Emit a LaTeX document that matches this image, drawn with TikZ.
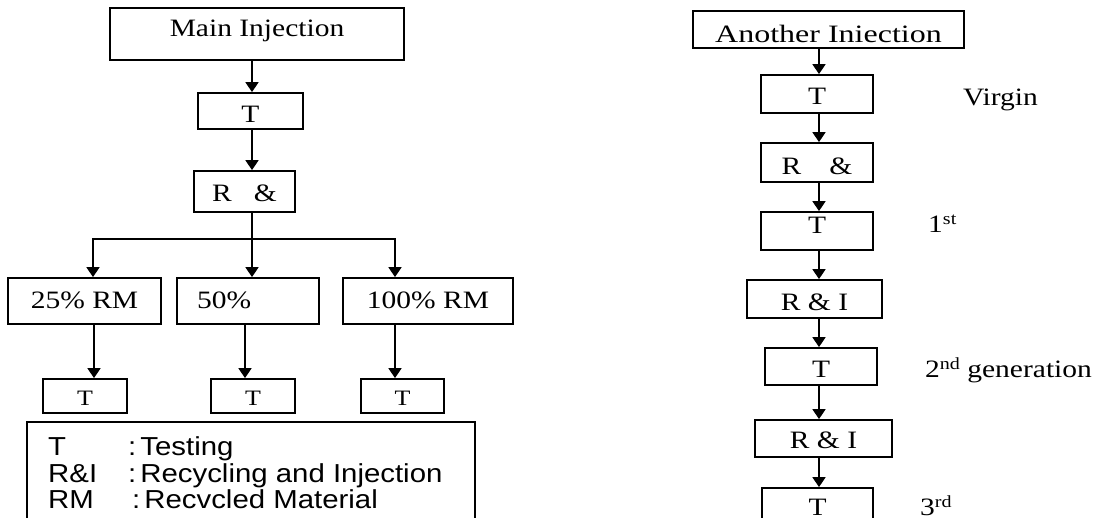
\documentclass[tikz,border=0pt]{standalone}
\usepackage{fontspec}
\usetikzlibrary{arrows.meta}
\newfontfamily\serifw[FakeStretch=1.18]{Liberation Serif}
\newfontfamily\serifwide[FakeStretch=1.28]{Liberation Serif}
\newfontfamily\sansw[FakeStretch=1.13]{Liberation Sans}
\newcommand\bigserif{\serifw\fontsize{25}{30}\selectfont}
\newcommand\wideserif{\serifwide\fontsize{25}{30}\selectfont}
\newcommand\smallserif{\serifw\fontsize{22}{26}\selectfont}
\newcommand\legsans{\sansw\fontsize{26}{30}\selectfont}
\newcommand\supr[1]{\raisebox{8pt}{\fontsize{17}{20}\selectfont #1}}
\tikzset{
  box/.style={draw, line width=1.8pt, inner sep=0pt, font=\bigserif, text height=20pt, text depth=0pt, anchor=center},
  arr/.style={line width=1.8pt, -{Triangle[width=13pt,length=10pt]}},
  lbl/.style={font=\bigserif, anchor=base west, inner sep=0pt},
  legline/.style={font=\legsans, anchor=base west, inner sep=0pt}
}
\begin{document}
\begin{tikzpicture}[x=1pt,y=-1pt]
\useasboundingbox (0,0) rectangle (1116,517);
% ---------- left flow ----------
\node[box, minimum width=294pt, minimum height=52pt, text height=5pt] (main) at (257,34) {Main Injection};
\node[box, minimum width=105pt, minimum height=36pt, text height=22pt] (t0) at (250.5,111) {T};
\node[box, minimum width=101pt, minimum height=41pt, text height=19pt] (r0) at (244.5,191.5) {R\hspace{22pt}\&};
\node[box, minimum width=153pt, minimum height=46pt, text height=14pt] (b1) at (84.5,301) {25\% RM};
\node[box, minimum width=142pt, minimum height=46pt, text height=14pt, inner xsep=20pt, text width=102pt, align=left] (b2) at (248,301) {50\%};
\node[box, minimum width=170pt, minimum height=46pt, text height=14pt] (b3) at (428,301) {100\% RM};
\node[box, font=\smallserif, minimum width=84pt, minimum height=34pt, text height=18pt] (tA) at (85,396) {T};
\node[box, font=\smallserif, minimum width=84pt, minimum height=34pt, text height=18pt] (tB) at (253,396) {T};
\node[box, font=\smallserif, minimum width=83pt, minimum height=34pt, text height=18pt] (tC) at (402.5,396) {T};
\node[box, minimum width=448pt, minimum height=108pt] (leg) at (251,476) {};
\node[legline] (leg1) at (48,455) {\makebox[80pt][l]{T}:\hspace{4pt}Testing};
\node[legline] (leg2) at (48,482) {\makebox[80pt][l]{R\&I}:\hspace{4pt}Recycling and Injection};
\node[legline] (leg3) at (48,508) {\makebox[84pt][l]{RM}:\hspace{4pt}Recvcled Material};
\coordinate (xm) at (252,0);
\coordinate (hl) at (93,239);
\coordinate (hm) at (252,239);
\coordinate (hr) at (395,239);
\coordinate (c1) at (94,0);
\coordinate (c2) at (245,0);
\coordinate (c3) at (395,0);
\draw[arr] (main.south -| xm) -- (t0.north -| xm);
\draw[arr] (t0.south -| xm) -- (r0.north -| xm);
\draw[arr] (r0.south -| hm) -- (b2.north -| hm);
\draw[arr] (hm) -| (b1.north -| hl);
\draw[arr] (hm) -| (b3.north -| hr);
\draw[arr] (b1.south -| c1) -- (tA.north -| c1);
\draw[arr] (b2.south -| c2) -- (tB.north -| c2);
\draw[arr] (b3.south -| c3) -- (tC.north -| c3);
% ---------- right flow ----------
\node[box, font=\wideserif, minimum width=271pt, minimum height=37pt, text height=25pt] (ai) at (828.5,29.5) {Another Iniection};
\node[box, minimum width=112pt, minimum height=38pt, text height=20pt] (r1) at (817,94) {T};
\node[box, minimum width=112pt, minimum height=39pt, text height=23pt] (r2) at (817,162.5) {R\hspace{28pt}\&};
\node[box, minimum width=112pt, minimum height=38pt, text height=4pt] (r3) at (817,231) {T};
\node[box, minimum width=135pt, minimum height=38pt, text height=22pt] (r4) at (814.5,299) {R \& I};
\node[box, minimum width=112pt, minimum height=37pt, text height=21pt] (r5) at (821,366.5) {T};
\node[box, minimum width=137pt, minimum height=37pt, text height=19pt] (r6) at (823.5,438.5) {R \& I};
\node[box, minimum width=111pt, minimum height=50pt, text height=4pt] (r7) at (817.5,513) {T};
\node[lbl] (lv) at (963,105) {Virgin};
\node[lbl] (l1) at (928,232) {1\supr{st}};
\node[lbl] (l2) at (925,377) {2\supr{nd} generation};
\node[lbl] (l3) at (920,515) {3\supr{rd}};
\coordinate (ra) at (819,0);
\draw[arr] (ai.south -| ra) -- (r1.north -| ra);
\draw[arr] (r1.south -| ra) -- (r2.north -| ra);
\draw[arr] (r2.south -| ra) -- (r3.north -| ra);
\draw[arr] (r3.south -| ra) -- (r4.north -| ra);
\draw[arr] (r4.south -| ra) -- (r5.north -| ra);
\draw[arr] (r5.south -| ra) -- (r6.north -| ra);
\draw[arr] (r6.south -| ra) -- (r7.north -| ra);
\end{tikzpicture}
\end{document}
